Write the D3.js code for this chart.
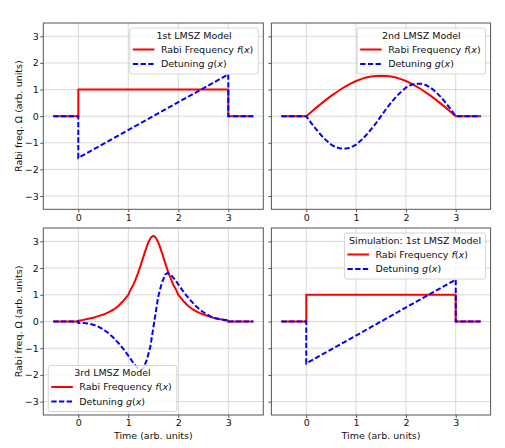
<!DOCTYPE html>
<html>
<head>
<meta charset="utf-8">
<script src="https://cdn.jsdelivr.net/npm/d3@7"></script>
<style>
  body { margin: 0; background: #fff; }
  text { font-family: "DejaVu Sans", sans-serif; }
</style>
</head>
<body>
<div id="chart"></div>
<script>
// Data
// 1st LMSZ model (also used for the simulation panel)
var time1 = [-0.5, 0, 0, 3, 3, 3.5];
var rabi1 = [0, 0, 1, 1, 0, 0];
var detuning1 = [0, 0, -1.57, 1.57, 0, 0];

// 2nd LMSZ model
var time2 = [-0.5, 0, 0.1, 0.2, 0.3, 0.4, 0.5, 0.6, 0.7, 0.8, 0.9, 1.0, 1.1, 1.2, 1.3, 1.4, 1.5,
             1.6, 1.7, 1.8, 1.9, 2.0, 2.1, 2.2, 2.3, 2.4, 2.5, 2.6, 2.7, 2.8, 2.9, 3.0, 3.5];
var rabi2 = [0, 0, 0.16, 0.32, 0.47, 0.62, 0.76, 0.89, 1.02, 1.13, 1.23, 1.32, 1.39, 1.45, 1.49, 1.51, 1.52,
             1.51, 1.49, 1.45, 1.39, 1.32, 1.23, 1.13, 1.02, 0.89, 0.76, 0.62, 0.47, 0.32, 0.16, 0, 0];
var detuning2 = [0, 0, -0.26, -0.50, -0.72, -0.91, -1.07, -1.17, -1.22, -1.22, -1.17, -1.07, -0.91, -0.72, -0.50, -0.26, 0,
                 0.26, 0.50, 0.72, 0.91, 1.07, 1.17, 1.22, 1.22, 1.17, 1.07, 0.91, 0.72, 0.50, 0.26, 0, 0];

// 3rd LMSZ model
var time3 = [-0.5, 0, 0, 0.1, 0.2, 0.3, 0.4, 0.5, 0.6, 0.7, 0.8, 0.9,
             1.0, 1.05, 1.1, 1.15, 1.2, 1.25, 1.3, 1.35, 1.4, 1.45, 1.5, 1.55, 1.6, 1.65, 1.7, 1.75, 1.8, 1.85, 1.9, 1.95, 2.0,
             2.1, 2.2, 2.3, 2.4, 2.5, 2.6, 2.7, 2.8, 2.9, 3.0, 3.0, 3.5];
var rabi3 = [0, 0, 0.03, 0.06, 0.10, 0.14, 0.20, 0.26, 0.34, 0.44, 0.58, 0.77,
             1.00, 1.21, 1.37, 1.60, 1.84, 2.12, 2.41, 2.70, 2.96, 3.14, 3.21, 3.14, 2.96, 2.70, 2.41, 2.12, 1.84, 1.60, 1.37, 1.21, 1.00,
             0.77, 0.58, 0.44, 0.34, 0.26, 0.20, 0.14, 0.10, 0.06, 0.03, 0, 0];
var timeDet3 = [-0.5, 0, 0, 0.1, 0.2, 0.3, 0.4, 0.5, 0.6, 0.7, 0.8, 0.9, 1.0,
                1.1, 1.2, 1.25, 1.3, 1.37, 1.44, 1.52, 1.6, 1.67, 1.74, 1.79, 1.84,
                1.94, 2.04, 2.14, 2.24, 2.34, 2.44, 2.54, 2.64, 2.74, 2.84, 2.94, 3.0, 3.0, 3.5];
var detuning3 = [0, 0, -0.05, -0.06, -0.08, -0.12, -0.19, -0.30, -0.43, -0.60, -0.80, -1.02, -1.28,
                 -1.55, -1.77, -1.82, -1.76, -1.44, -0.95, 0, 0.95, 1.44, 1.76, 1.82, 1.77,
                 1.55, 1.28, 1.02, 0.80, 0.60, 0.43, 0.30, 0.19, 0.12, 0.08, 0.06, 0.05, 0, 0];

var xTicks = [0, 1, 2, 3];
var yTicks = [-3, -2, -1, 0, 1, 2, 3];
var legendTitles = ["1st LMSZ Model", "2nd LMSZ Model", "3rd LMSZ Model", "Simulation: 1st LMSZ Model"];
var seriesNames = ["Rabi Frequency ", "Detuning "];
var seriesFuncs = ["f", "g"];

var svgWidth = 505;
var svgHeight = 448;

var svg = d3.select("#chart")
    .append("svg")
    .attr("width", svgWidth)
    .attr("height", svgHeight);

// panel boxes (2 x 2 grid)
var panels = [
    {left: 43.3, top: 23, width: 220, height: 186.3, legend: "top", yLabels: true, xTitle: false},
    {left: 271.4, top: 23, width: 219.2, height: 186.3, legend: "top", yLabels: false, xTitle: false},
    {left: 43.3, top: 228, width: 220, height: 187, legend: "bottom", yLabels: true, xTitle: true},
    {left: 271.4, top: 228, width: 219.2, height: 187, legend: "top", yLabels: false, xTitle: true}
];

var models = [
    {t: time1, f: rabi1, tg: time1, g: detuning1},
    {t: time2, f: rabi2, tg: time2, g: detuning2},
    {t: time3, f: rabi3, tg: timeDet3, g: detuning3},
    {t: time1, f: rabi1, tg: time1, g: detuning1}
];

var red = "#ff0000";
var blue = "#0000ff";
var dash = "5.3,2.4";
var axisColor = "#555";
var textColor = "#111";

panels.forEach(function(p, i) {
    var m = models[i];
    var chartGroup = svg.append("g")
        .attr("transform", `translate(${p.left},${p.top})`);

    var xScale = d3.scaleLinear().domain([-0.7, 3.7]).range([0, p.width]);
    var yScale = d3.scaleLinear().domain([-3.5, 3.5]).range([p.height, 0]);

    // grid lines
    chartGroup.selectAll(".vgrid").data(xTicks).enter().append("line")
        .attr("x1", d => xScale(d)).attr("x2", d => xScale(d))
        .attr("y1", 0).attr("y2", p.height)
        .attr("stroke", "#d3d3d3").attr("stroke-width", 0.9);
    chartGroup.selectAll(".hgrid").data(yTicks).enter().append("line")
        .attr("x1", 0).attr("x2", p.width)
        .attr("y1", d => yScale(d)).attr("y2", d => yScale(d))
        .attr("stroke", "#d3d3d3").attr("stroke-width", 0.9);

    // curves
    var rabiLine = d3.line()
        .x((d, k) => xScale(m.t[k]))
        .y(d => yScale(d));
    var detLine = d3.line()
        .x((d, k) => xScale(m.tg[k]))
        .y(d => yScale(d));

    chartGroup.append("path")
        .attr("d", rabiLine(m.f))
        .attr("fill", "none")
        .attr("stroke", red)
        .attr("stroke-width", 2)
        .attr("stroke-linejoin", "round");

    chartGroup.append("path")
        .attr("d", detLine(m.g))
        .attr("fill", "none")
        .attr("stroke", blue)
        .attr("stroke-width", 2)
        .attr("stroke-dasharray", dash);

    // axes
    var bottomAxis = d3.axisBottom(xScale)
        .tickValues(xTicks).tickSize(3).tickPadding(1.5)
        .tickFormat(d3.format("d"));
    var leftAxis = d3.axisLeft(yScale)
        .tickValues(yTicks).tickSize(3).tickPadding(1.5)
        .tickFormat(p.yLabels ? d3.format("d") : "");

    var xg = chartGroup.append("g")
        .attr("transform", `translate(0, ${p.height})`)
        .call(bottomAxis);
    var yg = chartGroup.append("g")
        .call(leftAxis);

    [xg, yg].forEach(function(a) {
        a.select(".domain").remove();
        a.selectAll("line").attr("stroke", axisColor);
        a.selectAll("text")
            .attr("fill", textColor)
            .style("font-size", "9.5px")
            .style("font-family", "DejaVu Sans, sans-serif");
    });

    // frame
    chartGroup.append("rect")
        .attr("width", p.width).attr("height", p.height)
        .attr("fill", "none")
        .attr("stroke", axisColor)
        .attr("stroke-width", 1);

    // legend
    var lg = chartGroup.append("g");
    var box = lg.append("rect")
        .attr("fill", "white").attr("fill-opacity", 0.8)
        .attr("stroke", "#cccccc").attr("stroke-width", 0.8)
        .attr("rx", 2);
    var titleText = lg.append("text")
        .attr("y", 10.8)
        .attr("text-anchor", "middle")
        .attr("font-size", "9.5px")
        .attr("fill", textColor)
        .text(legendTitles[i]);

    var entryW = 0;
    [0, 1].forEach(function(k) {
        var ly = 21.5 + k * 14.5;
        lg.append("line")
            .attr("x1", 3).attr("x2", 24.5)
            .attr("y1", ly).attr("y2", ly)
            .attr("stroke", k == 0 ? red : blue)
            .attr("stroke-width", 2)
            .attr("stroke-dasharray", k == 0 ? null : dash);
        var et = lg.append("text")
            .attr("x", 31).attr("y", ly + 3.4)
            .attr("font-size", "9.5px")
            .attr("fill", textColor);
        et.append("tspan").text(seriesNames[k]);
        et.append("tspan").attr("font-style", "italic").text(seriesFuncs[k]);
        et.append("tspan").text("(");
        et.append("tspan").attr("font-style", "italic").text("x");
        et.append("tspan").text(")");
        entryW = Math.max(entryW, et.node().getComputedTextLength());
    });

    var titleW = titleText.node().getComputedTextLength();
    var bw = Math.max(titleW + 9, 31 + entryW + 5);
    var bh = 46;
    titleText.attr("x", bw / 2);
    box.attr("width", bw).attr("height", bh);

    var bx = p.legend == "top" ? p.width - 5 - bw : 5;
    var by = p.legend == "top" ? 5 : p.height - 3.5 - bh;
    lg.attr("transform", `translate(${bx},${by})`);

    // axis titles
    if (p.yLabels) {
        svg.append("text")
            .attr("transform", `translate(21.5, ${p.top + p.height / 2}) rotate(-90)`)
            .attr("text-anchor", "middle")
            .attr("font-size", "9.5px")
            .attr("fill", textColor)
            .text("Rabi freq. Ω (arb. units)");
    }
    if (p.xTitle) {
        svg.append("text")
            .attr("x", p.left + p.width / 2)
            .attr("y", 438.5)
            .attr("text-anchor", "middle")
            .attr("font-size", "9.5px")
            .attr("fill", textColor)
            .text("Time (arb. units)");
    }
});
</script>
</body>
</html>
